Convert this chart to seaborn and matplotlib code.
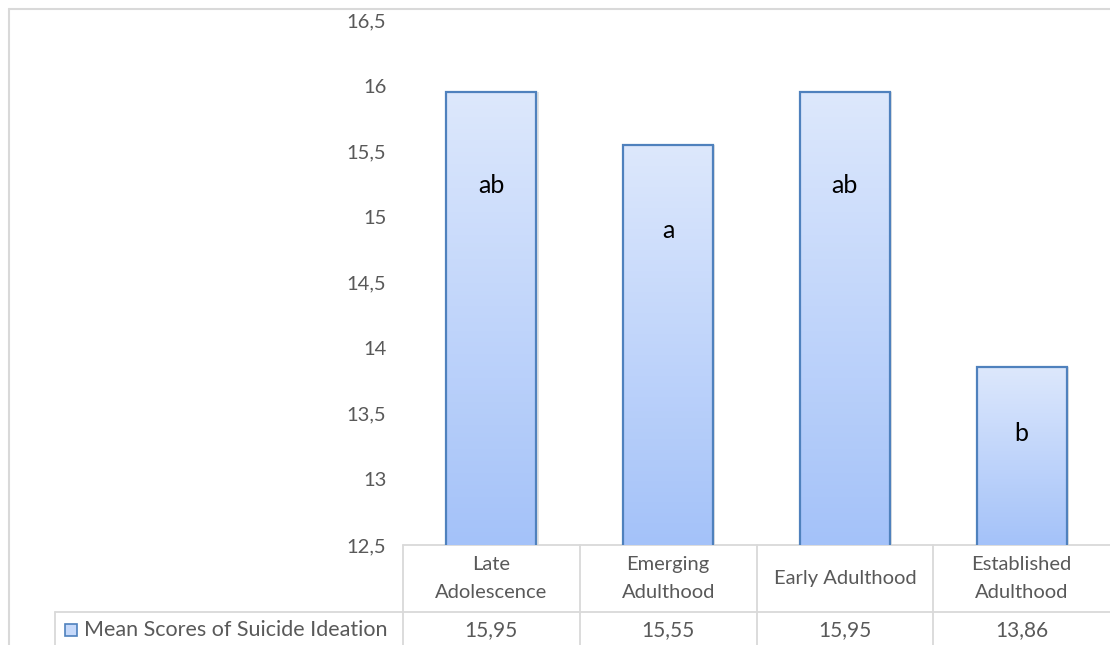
import numpy as np
import pandas as pd
import seaborn as sns
import matplotlib
matplotlib.use("Agg")
import matplotlib.pyplot as plt
import matplotlib.transforms as mtransforms
from matplotlib.patches import Rectangle

# data
groups = ["Late Adolescence", "Emerging Adulthood", "Early Adulthood", "Established Adulthood"]
header_labels = ["Late\nAdolescence", "Emerging\nAdulthood", "Early Adulthood", "Established\nAdulthood"]
mean_scores = [15.95, 15.55, 15.95, 13.86]
letters = ["ab", "a", "ab", "b"]
series_name = "Mean Scores of Suicide Ideation"
y_ticks = [12.5, 13, 13.5, 14, 14.5, 15, 15.5, 16, 16.5]

# where the significance letters sit (layout, not data)
letter_y = [15.24, 14.90, 15.24, 13.35]

sns.set_theme(style="white")
plt.rcParams["font.family"] = ["Lato", "DejaVu Sans"]

grey_text = "#595959"
grid_grey = "#d9d9d9"
edge_blue = "#4f81bd"
top_col = np.array([0xdd, 0xe8, 0xfc]) / 255
bot_col = np.array([0xa4, 0xc2, 0xf9]) / 255

df = pd.DataFrame({"group": groups, "score": mean_scores})

fig = plt.figure(figsize=(11.1, 6.45), dpi=100)
ax = fig.add_axes([403 / 1110, 1 - 545 / 645, 707 / 1110, 525 / 645])

sns.barplot(data=df, x="group", y="score", width=0.51, color="white",
            edgecolor=edge_blue, linewidth=1.6, ax=ax, zorder=3)
ax.set_xlim(-0.5, 3.5)
ax.set_ylim(12.5, 16.5)

# gradient fill inside each bar
grad = np.linspace(0, 1, 256)[:, None, None]
grad_img = top_col * (1 - grad) + bot_col * grad
for p in ax.patches:
    x0, y0 = p.get_x(), p.get_y()
    w, h = p.get_width(), p.get_height()
    y_top = y0 + h
    im = ax.imshow(grad_img, extent=[x0, x0 + w, 12.5, y_top], aspect="auto",
                   origin="upper", zorder=2)
    im.set_clip_path(p)
    p.set_facecolor("none")
    # faint shadow on the right side
    ax.add_patch(Rectangle((x0 + w, 12.5), 0.012, y_top - 12.5, color="#c8c8c8",
                           alpha=0.5, zorder=1, lw=0))
ax.set_xlim(-0.5, 3.5)
ax.set_ylim(12.5, 16.5)

for i, (lab, yy) in enumerate(zip(letters, letter_y)):
    ax.text(i, yy, lab, ha="center", va="center", fontsize=18, color="black", zorder=5)

ax.set_yticks(y_ticks)
ax.set_yticklabels([f"{t:g}".replace(".", ",") for t in y_ticks], color=grey_text, fontsize=14.5)
ax.tick_params(axis="y", length=0, pad=12)
ax.set_xticks([])
ax.set_xlabel("")
ax.set_ylabel("")
for s in ax.spines.values():
    s.set_visible(False)

# data table below the axes
blend = mtransforms.blended_transform_factory(ax.transData, ax.transAxes)
row1 = -67 / 525
row2 = -110 / 525
line_kw = dict(color=grid_grey, lw=1.3, clip_on=False, zorder=1)
ax.plot([-0.5, 3.5], [0, 0], transform=blend, **line_kw)
ax.plot([-0.5, 3.5], [row1, row1], transform=blend, **line_kw)
ax.plot([(55 - 403) / 707, 0], [row1, row1], transform=ax.transAxes, **line_kw)
ax.plot([(55 - 403) / 707] * 2, [row1, row2], transform=ax.transAxes, **line_kw)
for k in range(4):
    ax.plot([k - 0.5, k - 0.5], [0, row2], transform=blend, **line_kw)

for i in range(len(groups)):
    ax.text(i, row1 / 2, header_labels[i], transform=blend, ha="center", va="center",
            fontsize=14.5, color=grey_text, linespacing=1.85)
    ax.text(i, row1 - 18 / 525, f"{mean_scores[i]:.2f}".replace(".", ","), transform=blend,
            ha="center", va="center", fontsize=15, color=grey_text)

# legend key + series name
kx = (65 - 403) / 707
ky = row1 - 24 / 525
key = Rectangle((kx, ky), 12 / 707, 12 / 525, transform=ax.transAxes, facecolor="#c6d9fa",
                edgecolor=edge_blue, lw=1.2, clip_on=False)
ax.add_patch(key)
ax.text((84 - 403) / 707, row1 - 18 / 525, series_name, transform=ax.transAxes,
        ha="left", va="center", fontsize=15.5, color=grey_text)

# chart area border (left and top)
fig.add_artist(plt.Line2D([9 / 1110, 9 / 1110], [0, 1 - 9 / 645], color=grid_grey, lw=1.5))
fig.add_artist(plt.Line2D([9 / 1110, 1], [1 - 9 / 645, 1 - 9 / 645], color=grid_grey, lw=1.5))

fig.savefig("out.png", dpi=100, facecolor="white")
